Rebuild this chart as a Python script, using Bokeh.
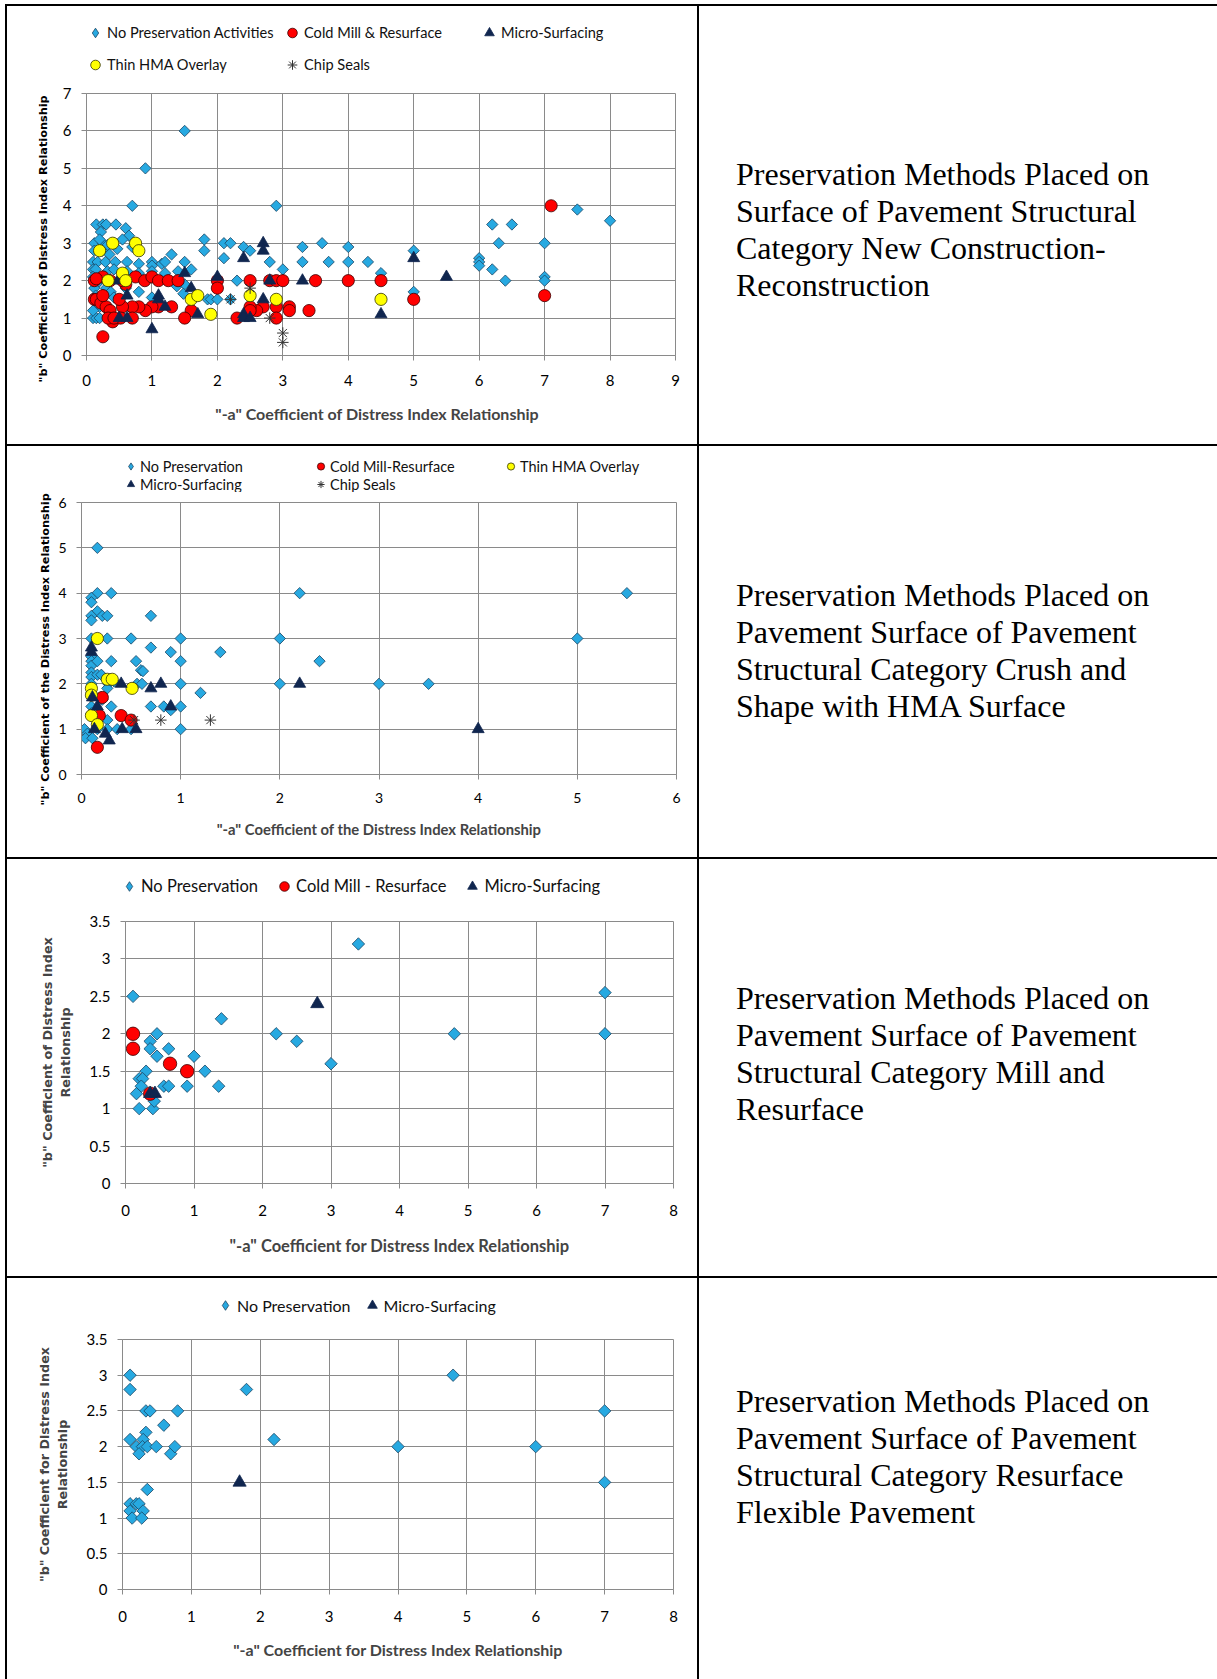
import math
from bokeh.plotting import figure
from bokeh.models import Range1d, Legend, LegendItem, Div, FixedTicker, NumeralTickFormatter, Title
from bokeh.layouts import row, column
from bokeh.embed import file_html
from bokeh.resources import INLINE

# ---------------- data ----------------
# Chart 1: New Construction-Reconstruction
C1_X_TICKS = [0, 1, 2, 3, 4, 5, 6, 7, 8, 9]
C1_Y_TICKS = [0, 1, 2, 3, 4, 5, 6, 7]
c1_no_pres = [(0.1, 1.0), (0.15, 1.0), (0.2, 1.0), (0.15, 3.5), (0.25, 3.5), (0.3, 3.5), (0.45, 3.5),
              (0.6, 3.4), (0.65, 3.2), (0.22, 3.3), (0.12, 3.0), (0.25, 3.0), (0.2, 3.1), (0.55, 3.1),
              (0.32, 2.95), (0.12, 2.8), (0.24, 2.8), (0.47, 2.85), (0.35, 2.7), (0.7, 4.0), (0.9, 5.0),
              (1.5, 6.0), (2.9, 4.0), (0.1, 2.5), (0.17, 2.5), (0.29, 2.5), (0.44, 2.5), (0.62, 2.5),
              (0.8, 2.45), (1.0, 2.5), (1.0, 2.4), (1.15, 2.45), (1.3, 2.7), (1.5, 2.5), (1.2, 2.5),
              (0.1, 2.3), (0.14, 2.3), (0.32, 2.25), (0.42, 2.3), (0.62, 2.25), (0.8, 2.2), (1.0, 2.25),
              (1.2, 2.2), (1.4, 2.25), (1.6, 2.3), (0.1, 2.1), (0.2, 2.0), (0.15, 1.9), (0.3, 1.8),
              (0.12, 1.8), (0.14, 1.6), (0.37, 1.7), (0.42, 1.55), (0.25, 1.4), (0.2, 1.3), (0.1, 1.2),
              (0.8, 1.7), (1.0, 1.55), (1.38, 1.85), (1.5, 1.9), (1.48, 1.65), (1.85, 1.5), (1.9, 1.5),
              (2.0, 1.5), (2.2, 1.5), (1.8, 3.1), (1.8, 2.8), (2.1, 3.0), (2.2, 3.0), (2.1, 2.6),
              (2.3, 2.0), (2.4, 2.9), (2.5, 2.8), (2.8, 2.5), (3.0, 2.3), (3.3, 2.9), (3.3, 2.5),
              (3.6, 3.0), (3.7, 2.5), (4.0, 2.9), (4.0, 2.5), (4.3, 2.5), (4.5, 2.2), (5.0, 2.8),
              (5.0, 1.7), (6.0, 2.6), (6.0, 2.5), (6.0, 2.4), (6.2, 3.5), (6.2, 2.3), (6.3, 3.0),
              (6.4, 2.0), (6.5, 3.5), (7.0, 3.0), (7.0, 2.1), (7.0, 2.0), (7.5, 3.9), (8.0, 3.6),
              (0.6, 1.8), (0.7, 2.9)]
c1_cold_mill = [(0.12, 2.0), (0.25, 2.1), (0.36, 2.0), (0.6, 1.9), (0.75, 2.1), (0.89, 2.0), (1.0, 2.1),
                (1.1, 2.0), (1.25, 2.0), (1.4, 2.0), (2.0, 2.0), (2.0, 1.8), (2.5, 2.0), (2.8, 2.0),
                (2.9, 2.0), (3.0, 2.0), (3.5, 2.0), (4.0, 2.0), (4.5, 2.0), (7.1, 4.0), (7.0, 1.6),
                (5.0, 1.5), (3.4, 1.2), (3.1, 1.3), (3.1, 1.2), (2.9, 1.3), (2.9, 1.0), (2.7, 1.3),
                (2.6, 1.2), (2.5, 1.3), (2.5, 1.2), (2.3, 1.0), (1.6, 1.2), (1.5, 1.0), (1.3, 1.3),
                (1.1, 1.3), (1.0, 1.3), (0.9, 1.2), (0.8, 1.3), (0.7, 1.3), (0.55, 1.3), (0.5, 1.5),
                (0.7, 1.0), (0.12, 1.5), (0.15, 1.5), (0.22, 1.4), (0.3, 1.3), (0.36, 1.2), (0.4, 0.9),
                (0.33, 1.0), (0.25, 0.5), (0.25, 1.6), (0.52, 1.0), (0.42, 1.0), (0.55, 2.0), (0.15, 2.05)]
c1_micro = [(0.48, 2.0), (0.62, 1.6), (0.5, 1.0), (0.62, 1.0), (1.0, 0.7), (1.1, 1.6), (1.1, 1.5),
            (1.2, 1.3), (1.5, 2.2), (1.6, 1.8), (1.7, 1.1), (2.0, 2.1), (2.4, 2.6), (2.4, 1.1),
            (2.4, 1.0), (2.5, 1.0), (2.7, 3.0), (2.7, 2.8), (2.7, 1.5), (2.8, 2.0), (3.3, 2.0),
            (4.5, 1.1), (5.0, 2.6), (5.5, 2.1)]
c1_thin_hma = [(0.2, 2.8), (0.4, 3.0), (0.75, 3.0), (0.8, 2.8), (0.33, 2.0), (0.55, 2.2), (0.6, 2.0),
               (1.6, 1.5), (1.7, 1.6), (1.9, 1.1), (2.5, 1.6), (2.9, 1.5), (4.5, 1.5)]
c1_chip = [(2.2, 1.5), (2.8, 1.0), (3.0, 0.6), (3.0, 0.35), (2.5, 1.8)]

# Chart 2: Crush and Shape with HMA Surface
C2_X_TICKS = [0, 1, 2, 3, 4, 5, 6]
C2_Y_TICKS = [0, 1, 2, 3, 4, 5, 6]
c2_no_pres = [(0.16, 5.0), (0.16, 4.0), (0.3, 4.0), (0.1, 3.9), (0.1, 3.8), (0.16, 3.6), (0.1, 3.5),
              (0.1, 3.4), (0.21, 3.5), (0.26, 3.5), (0.7, 3.5), (0.1, 3.0), (0.16, 3.0), (0.26, 3.0),
              (0.5, 3.0), (1.0, 3.0), (2.0, 3.0), (0.7, 2.8), (0.9, 2.7), (1.4, 2.7), (0.1, 2.6),
              (0.1, 2.5), (0.1, 2.4), (0.1, 2.25), (0.1, 2.15), (0.16, 2.5), (0.3, 2.5), (0.55, 2.5),
              (1.0, 2.5), (0.6, 2.3), (0.62, 2.28), (0.16, 2.2), (0.56, 2.0), (0.61, 2.0), (0.27, 2.0),
              (0.33, 2.05), (1.0, 2.0), (1.2, 1.8), (2.0, 2.0), (2.2, 4.0), (0.26, 1.9), (0.21, 1.65),
              (0.3, 1.5), (0.7, 1.5), (0.83, 1.5), (0.9, 1.42), (1.0, 1.5), (0.1, 1.5), (0.1, 1.35),
              (0.26, 1.2), (0.16, 1.17), (0.03, 1.0), (0.06, 0.9), (0.04, 0.8), (0.26, 1.0), (0.36, 1.0),
              (0.5, 1.0), (1.0, 1.0), (0.16, 1.0), (0.11, 0.8), (5.0, 3.0), (5.5, 4.0), (3.0, 2.0),
              (3.5, 2.0), (2.4, 2.5), (0.1, 2.0), (0.1, 1.8), (0.2, 2.2)]
c2_cold_mill = [(0.21, 1.7), (0.4, 1.3), (0.5, 1.2), (0.16, 0.6), (0.18, 1.3)]
c2_thin_hma = [(0.16, 3.0), (0.26, 2.1), (0.31, 2.1), (0.1, 1.9), (0.1, 1.75), (0.51, 1.9), (0.1, 1.3),
               (0.16, 1.1)]
c2_micro = [(0.1, 2.8), (0.1, 2.7), (0.11, 1.7), (0.16, 1.5), (0.13, 1.0), (0.24, 0.9), (0.28, 0.75),
            (0.4, 2.0), (0.7, 1.9), (0.8, 2.0), (0.9, 1.5), (0.41, 1.0), (0.55, 1.0), (2.2, 2.0), (4.0, 1.0)]
c2_chip = [(0.53, 1.2), (0.8, 1.2), (1.3, 1.2)]

# Chart 3: Mill and Resurface
C3_X_TICKS = [0, 1, 2, 3, 4, 5, 6, 7, 8]
C3_Y_TICKS = [0, 0.5, 1, 1.5, 2, 2.5, 3, 3.5]
c3_no_pres = [(0.11, 2.5), (0.36, 1.9), (0.46, 2.0), (0.36, 1.8), (0.46, 1.7), (0.63, 1.8), (1.0, 1.7),
              (1.16, 1.5), (1.4, 2.2), (1.36, 1.3), (0.9, 1.3), (0.56, 1.3), (0.63, 1.3), (0.3, 1.5),
              (0.2, 1.4), (0.25, 1.4), (0.23, 1.3), (0.16, 1.2), (0.2, 1.0), (0.4, 1.0), (0.42, 1.1),
              (2.2, 2.0), (2.5, 1.9), (3.0, 1.6), (3.4, 3.2), (4.8, 2.0), (7.0, 2.55), (7.0, 2.0)]
c3_cold_mill = [(0.11, 2.0), (0.11, 1.8), (0.65, 1.6), (0.9, 1.5), (0.36, 1.2)]
c3_micro = [(2.8, 2.4), (0.36, 1.2), (0.43, 1.2)]

# Chart 4: Resurface Flexible Pavement
C4_X_TICKS = [0, 1, 2, 3, 4, 5, 6, 7, 8]
C4_Y_TICKS = [0, 0.5, 1, 1.5, 2, 2.5, 3, 3.5]
c4_no_pres = [(0.11, 3.0), (0.11, 2.8), (0.11, 2.1), (0.34, 2.5), (0.4, 2.5), (0.8, 2.5), (0.6, 2.3),
              (0.34, 2.2), (0.3, 2.1), (0.2, 2.0), (0.29, 2.0), (0.36, 2.0), (0.49, 2.0), (0.24, 1.9),
              (0.7, 1.9), (0.76, 2.0), (1.8, 2.8), (2.2, 2.1), (4.8, 3.0), (4.0, 2.0), (6.0, 2.0),
              (7.0, 2.5), (7.0, 1.5), (0.36, 1.4), (0.11, 1.2), (0.2, 1.2), (0.24, 1.2), (0.11, 1.1),
              (0.3, 1.1), (0.14, 1.0), (0.28, 1.0)]
c4_micro = [(1.7, 1.5)]

TEXT_1 = ["Preservation Methods Placed on", "Surface of Pavement Structural",
          "Category New Construction-", "Reconstruction"]
TEXT_2 = ["Preservation Methods Placed on", "Pavement Surface of Pavement",
          "Structural Category Crush and", "Shape with HMA Surface"]
TEXT_3 = ["Preservation Methods Placed on", "Pavement Surface of Pavement",
          "Structural Category Mill and", "Resurface"]
TEXT_4 = ["Preservation Methods Placed on", "Pavement Surface of Pavement",
          "Structural Category Resurface", "Flexible Pavement"]

# ---------------- styles ----------------
GRID = "#8a8a8a"
BLUE, BLUE_EDGE = "#27A9E1", "#1a4563"
RED, YELLOW, NAVY = "#FF0000", "#FFFF00", "#10264F"
FONT = "Lato"
NB = "\u00a0"


def mark(kind, s):
    if kind == "diamond":
        return dict(marker="square", angle=math.pi / 4, size=s * 0.8, fill_color=BLUE,
                    line_color=BLUE_EDGE, line_width=0.8)
    if kind == "red":
        return dict(marker="circle", size=s * 1.22, fill_color=RED, line_color="#3a0000", line_width=0.8)
    if kind == "yellow":
        return dict(marker="circle", size=s * 1.22, fill_color=YELLOW, line_color="#333300", line_width=0.8)
    if kind == "triangle":
        return dict(marker="triangle", size=s * 1.2, fill_color=NAVY, line_color=NAVY, line_width=0.8)
    return dict(marker="asterisk", size=s * 1.15, fill_color=None, line_color="#333333", line_width=1)


def legend_mark(kind):
    st = mark(kind, 10)
    st.pop("size")
    st.pop("angle", None)
    if kind == "diamond":
        st["marker"] = "diamond"
    return st


def build_legend(cfg):
    # a strip above the chart holding the legend; its ranges lie away from the data,
    # so only the legend glyphs are drawn
    lh = cfg["leg_h"]
    p = figure(width=690, height=lh, x_range=Range1d(-3, -2), y_range=Range1d(-3, -2),
               output_backend="svg", toolbar_location=None, x_axis_type=None, y_axis_type=None,
               min_border_left=0, min_border_right=0, min_border_top=0, min_border_bottom=0)
    p.outline_line_color = None
    p.grid.visible = False
    p.background_fill_color = "white"
    p.border_fill_color = "white"
    names, loc, gw, gh, lw, sp, ncols, so = cfg["legend"]
    series = {n: (k, d) for n, k, d in cfg["series"]}
    items = []
    for n in names:
        kind, pairs = series[n]
        r = p.scatter(x=[a for a, b in pairs], y=[b for a, b in pairs], **legend_mark(kind))
        items.append(LegendItem(label=n, renderers=[r]))
    leg = Legend(items=items, location=loc, orientation="horizontal", ncols=ncols,
                 glyph_width=gw, glyph_height=gh, label_height=gh, label_width=lw,
                 label_standoff=so, spacing=sp, padding=0, margin=0,
                 border_line_alpha=0, background_fill_alpha=0,
                 label_text_font=FONT, label_text_font_size=cfg["leg_fs"],
                 label_text_color="#111111")
    p.add_layout(leg)
    return p


def build(cfg):
    p = figure(width=690, height=cfg["h"] - cfg["leg_h"], x_range=Range1d(0, cfg["xt"][-1]),
               y_range=Range1d(0, cfg["yt"][-1]), output_backend="svg", toolbar_location=None,
               min_border_left=cfg["b"][0], min_border_right=cfg["b"][1],
               min_border_top=cfg["b"][2], min_border_bottom=cfg["b"][3])
    p.background_fill_color = "white"
    p.border_fill_color = "white"
    p.outline_line_color = GRID
    p.outline_line_width = 1
    p.xaxis.ticker = FixedTicker(ticks=cfg["xt"])
    p.yaxis.ticker = FixedTicker(ticks=cfg["yt"])
    p.yaxis.formatter = NumeralTickFormatter(format="0.[0]")
    p.xaxis.formatter = NumeralTickFormatter(format="0.[0]")
    for g in (p.xgrid[0], p.ygrid[0]):
        g.grid_line_color = GRID
        g.grid_line_width = 1
    for ax in (p.xaxis[0], p.yaxis[0]):
        ax.axis_line_color = GRID
        ax.major_tick_line_color = GRID
        ax.major_tick_out = 5
        ax.major_tick_in = 0
        ax.minor_tick_line_color = None
        ax.major_label_text_font = FONT
        ax.major_label_text_font_size = cfg["tick_fs"]
        ax.major_label_text_color = "#000000"
    p.xaxis.major_label_standoff = cfg["xt_so"]
    p.yaxis.major_label_standoff = 10
    p.xaxis.axis_label = cfg["xlabel"]
    p.xaxis.axis_label_text_font = FONT
    p.xaxis.axis_label_text_font_style = "bold"
    p.xaxis.axis_label_text_font_size = cfg["xl_fs"]
    p.xaxis.axis_label_standoff = cfg["xl_so"]
    if cfg.get("ytitle"):
        # y title placed as a side title so that it can sit lower than the frame centre
        text, off, so = cfg["ytitle"]
        p.add_layout(Title(text=text, align="left", offset=off, standoff=so,
                           text_font="DejaVu Sans", text_font_style="bold",
                           text_font_size=cfg["yl_fs"], text_color="#000000"), "left")
    else:
        p.yaxis.axis_label = cfg["ylabel"]
        p.yaxis.axis_label_text_font = "DejaVu Sans"
        p.yaxis.axis_label_text_font_style = "bold"
        p.yaxis.axis_label_text_font_size = cfg["yl_fs"]
        p.yaxis.axis_label_standoff = cfg["yl_so"]

    for name, kind, pairs in cfg["series"]:
        xs = [a for a, b in pairs]
        ys = [b for a, b in pairs]
        p.scatter(xs, ys, **mark(kind, cfg["ms"]))
    return p


charts = [
    dict(h=438, leg_h=77, b=(79, 22, 10, 89), xt=C1_X_TICKS, yt=C1_Y_TICKS, tick_fs="15px", ms=10, xt_so=14,
         xlabel='"-a" Coefficient of Distress Index Relationship' + NB * 2,
         ytitle=('"b" Coefficient of Distress Index Relationship', -27, 20),
         xl_fs="16px", xl_so=15, yl_fs="11.3px", leg_fs="14.6px",
         series=[("No Preservation Activities", "diamond", c1_no_pres),
                 ("Cold Mill & Resurface", "red", c1_cold_mill),
                 ("Micro-Surfacing", "triangle", c1_micro),
                 ("Thin HMA Overlay", "yellow", c1_thin_hma),
                 ("Chip Seals", "chip", c1_chip)],
         legend=(["No Preservation Activities", "Cold Mill & Resurface", "Micro-Surfacing",
                  "Thin HMA Overlay", "Chip Seals"], (-3, 4), 24, 29, 170, 3, 3, -4)),
    dict(h=411, leg_h=46, b=(74, 21, 10, 83), xt=C2_X_TICKS, yt=C2_Y_TICKS, tick_fs="14px", ms=10, xt_so=13,
         xlabel='"-a" Coefficient of the Distress Index Relationship',
         ytitle=('"b" Coefficient of the Distress Index Relationship', -31, 8),
         xl_fs="14.8px", xl_so=14, yl_fs="11.3px", leg_fs="14.5px",
         series=[("No Preservation", "diamond", c2_no_pres),
                 ("Cold Mill-Resurface", "red", c2_cold_mill),
                 ("Thin HMA Overlay", "yellow", c2_thin_hma),
                 ("Micro-Surfacing", "triangle", c2_micro),
                 ("Chip Seals", "chip", c2_chip)],
         legend=(["No Preservation", "Cold Mill-Resurface", "Thin HMA Overlay",
                  "Micro-Surfacing", "Chip Seals"], (40, -1), 19, 18, 171, 0, 3, -1)),
    dict(h=417, leg_h=47, b=(118, 24, 15, 93), xt=C3_X_TICKS, yt=C3_Y_TICKS, tick_fs="15px", ms=11, xt_so=16,
         xlabel='"-a" Coefficient for Distress Index Relationship',
         ylabel='"b" Coefficient of Distress Index\nRelationship',
         xl_fs="16.5px", xl_so=17, yl_fs="12.8px", yl_so=14, leg_fs="16.5px",
         series=[("No Preservation", "diamond", c3_no_pres),
                 ("Cold Mill - Resurface", "red", c3_cold_mill),
                 ("Micro-Surfacing", "triangle", c3_micro)],
         legend=(["No Preservation", "Cold Mill - Resurface", "Micro-Surfacing"], (-8, 8), 24, 24, 20, 14,
                 "auto", -6)),
    dict(h=401, leg_h=47, b=(115, 24, 14, 90), xt=C4_X_TICKS, yt=C4_Y_TICKS, tick_fs="15px", ms=11, xt_so=16,
         xlabel='"-a" Coefficient for Distress Index Relationship',
         ylabel='"b" Coefficient for Distress Index\nRelationship',
         xl_fs="16px", xl_so=15, yl_fs="12.7px", yl_so=14, leg_fs="16px",
         series=[("No Preservation", "diamond", c4_no_pres),
                 ("Micro-Surfacing", "triangle", c4_micro)],
         legend=(["No Preservation", "Micro-Surfacing"], (91, 8), 24, 24, 20, 9, "auto", -7)),
]

texts = [(TEXT_1, 150), (TEXT_2, 131), (TEXT_3, 121), (TEXT_4, 105)]


def hline():
    return Div(text="", width=1212, height=2, margin=0, styles={"background-color": "#000"})


def vline(h):
    return Div(text="", width=2, height=h, margin=0, styles={"background-color": "#000"})


def text_div(lines, h, pad):
    html = "<br>".join(lines)
    body = ('<div style="font-family:\'Liberation Serif\',\'Times New Roman\',serif;font-size:32px;'
            'line-height:37px;color:#000;padding-left:37px;padding-top:%dpx;white-space:nowrap;">%s</div>'
            % (pad, html))
    return Div(text=body, width=518, height=h, margin=0)


children = [hline()]
for cfg, (lines, pad) in zip(charts, texts):
    cell = column(build_legend(cfg), build(cfg), spacing=0)
    children.append(row(vline(cfg["h"]), cell, vline(cfg["h"]), text_div(lines, cfg["h"], pad),
                        spacing=0))
    children.append(hline())
children = children[:-1]

page = column(*children, spacing=0, margin=(4, 0, 0, 5))

with open("out.html", "w") as f:
    f.write(file_html(page, INLINE))
